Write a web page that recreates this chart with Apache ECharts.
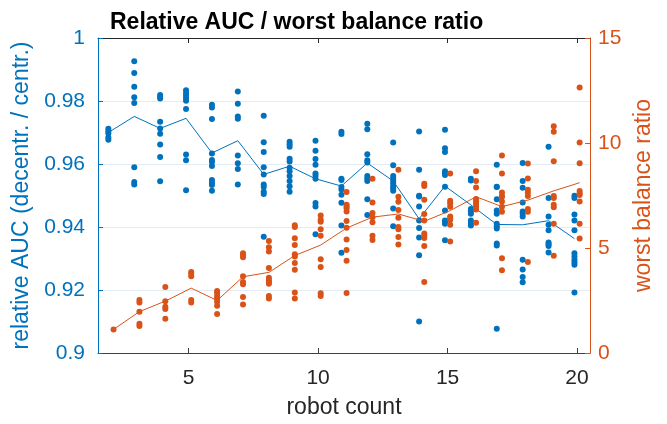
<!DOCTYPE html>
<html>
<head>
<meta charset="utf-8">
<script src="https://cdn.jsdelivr.net/npm/echarts@6/dist/echarts.min.js"></script>
<style>html,body{margin:0;padding:0;background:#fff}#c{width:667px;height:424px}</style>
</head>
<body>
<div id="c"></div>
<script>
// ---- data ----
const robotCounts = [2,3,4,5,6,7,8,9,10,11,12,13,14,15,16,17,18,19,20];

const relAUC = [
  [0.9712,0.9704,0.9697,0.9684,0.9677],
  [0.9926,0.9889,0.9845,0.9812,0.9794,0.959,0.9543,0.9535],
  [0.9819,0.9813,0.9808,0.9734,0.9713,0.9696,0.9662,0.9622,0.9545],
  [0.9834,0.9825,0.9817,0.9809,0.9801,0.9775,0.963,0.9612,0.9517],
  [0.9788,0.9779,0.9743,0.9633,0.9613,0.9606,0.9594,0.9549,0.9541,0.9533,0.9515],
  [0.983,0.9791,0.9751,0.9744,0.9627,0.9602,0.9584,0.9535],
  [0.9753,0.9669,0.9638,0.959,0.9567,0.9535,0.9527,0.9512,0.9505,0.9369],
  [0.9671,0.9663,0.9655,0.9617,0.9608,0.9588,0.9577,0.9562,0.9546,0.9529,0.9512],
  [0.9674,0.9642,0.9616,0.9598,0.957,0.9563,0.9553,0.9476,0.9465,0.9377],
  [0.9702,0.9695,0.9553,0.9549,0.9527,0.9519,0.9502,0.9477,0.9405,0.9318],
  [0.9728,0.971,0.9631,0.9612,0.9605,0.9562,0.9554,0.9546,0.9488,0.9438],
  [0.9668,0.9596,0.9562,0.9554,0.9546,0.9538,0.9529,0.9522,0.9515,0.9459,0.9402],
  [0.9703,0.9582,0.9499,0.9497,0.9465,0.9421,0.9397,0.9367,0.931,0.91],
  [0.9709,0.965,0.9638,0.9577,0.9571,0.9565,0.9528,0.9452,0.9421,0.9416,0.941,0.9358],
  [0.9553,0.9548,0.9457,0.945,0.9442,0.9421,0.9413,0.9405],
  [0.9598,0.9528,0.9527,0.9488,0.9452,0.9442,0.941,0.9402,0.9395,0.9348,0.9341,0.9077],
  [0.9603,0.9546,0.9525,0.9478,0.9449,0.9442,0.9433,0.9296,0.9265,0.9241,0.9225],
  [0.9655,0.9492,0.9433,0.9407,0.939,0.9351,0.9345,0.934,0.9319],
  [0.9499,0.9492,0.944,0.9421,0.939,0.9317,0.9306,0.9296,0.9288,0.928,0.9192]
];
const relAUCMean = [0.970,0.9751,0.9713,0.9745,0.9635,0.9674,0.9567,0.9593,0.9553,0.953,0.9603,0.9546,0.9426,0.953,0.947,0.9408,0.9407,0.942,0.9363];

const balance = [
  [1.125],
  [2.52,2.41,1.97,1.39,1.28],
  [3.14,2.47,2.2,2.09,1.63],
  [3.86,3.77,3.66,2.52,2.41],
  [2.95,2.87,2.72,2.59,2.44,2.25,1.86],
  [4.75,4.66,4.56,3.66,3.38,3.27,2.67,2.31],
  [5.33,5.03,4.83,4.05,3.58,3.47,3.38,3.3,2.72,2.59],
  [6.08,6.0,5.47,5.14,4.7,4.59,4.28,3.97,2.88,2.59],
  [6.55,6.34,6.25,5.89,5.58,4.47,4.09,2.84,2.72],
  [7.67,7.06,6.97,6.89,6.74,6.28,5.97,5.41,4.91,4.39,2.86],
  [8.30,7.17,6.67,6.47,6.23,5.58,5.38],
  [8.73,7.44,7.2,6.81,6.44,6.0,5.89,5.52,5.17],
  [8.06,7.95,7.3,6.62,6.31,5.69,5.58,5.48,5.09,3.38],
  [8.55,7.25,7.13,6.97,6.5,6.42,6.34,6.11,5.31],
  [8.66,8.19,7.88,7.33,7.22,7.09,6.97,6.83,6.2],
  [9.41,8.55,7.64,7.48,7.44,7.22,6.97,6.73,4.51,3.94],
  [9.02,8.31,7.77,7.64,7.48,6.86,6.73,4.33],
  [10.8,10.53,9.13,7.48,7.38,7.06,6.94,6.16,4.63],
  [12.64,10.02,9.03,7.72,7.61,7.52,7.22,6.16,5.45]
];
const balanceMean = [1.125,1.97,2.47,3.09,2.5,3.63,3.84,4.64,5.14,5.95,6.47,6.62,6.27,6.78,7.44,6.97,7.28,7.72,8.11];

const xTicks = [5,10,15,20];
const leftTicks = [0.9,0.92,0.94,0.96,0.98,1];
const rightTicks = [0,5,10,15];

// ---- chart ----
const BLUE = '#0072BD', ORANGE = '#D95319', DARK = '#262626';
const FONT = 'Liberation Sans';
const off = 0.1;

const blueScatter = [], orangeScatter = [], blueLine = [], orangeLine = [];
robotCounts.forEach((n, i) => {
  relAUC[i].forEach(v => blueScatter.push([n - off, v]));
  balance[i].forEach(v => orangeScatter.push([n + off, v]));
  blueLine.push([n - off, relAUCMean[i]]);
  orangeLine.push([n + off, balanceMean[i]]);
});

const chart = echarts.init(document.getElementById('c'), null, {renderer: 'canvas'});
chart.setOption({
  animation: false,
  backgroundColor: '#fff',
  title: {
    text: 'Relative AUC / worst balance ratio',
    left: 105, top: 6,
    textStyle: {fontFamily: FONT, fontWeight: 'bold', fontSize: 23, color: '#000'}
  },
  grid: {left: 98, right: 77, top: 38, bottom: 66, containLabel: false},
  xAxis: [{
    type: 'value', min: 1.5, max: 20.5, position: 'bottom',
    name: 'robot count', nameLocation: 'middle', nameGap: 43,
    nameTextStyle: {fontFamily: FONT, fontSize: 23, color: DARK},
    axisLine: {show: true, lineStyle: {color: '#404040', width: 1}},
    axisTick: {show: true, inside: true, length: 5, customValues: xTicks, lineStyle: {color: '#404040'}},
    axisLabel: {customValues: xTicks, fontFamily: FONT, fontSize: 21, color: DARK, margin: 15},
    splitLine: {show: false}
  }, {
    type: 'value', min: 1.5, max: 20.5, position: 'top',
    axisLine: {show: true, lineStyle: {color: DARK, width: 1}},
    axisTick: {show: true, inside: true, length: 5, customValues: xTicks, lineStyle: {color: DARK}},
    axisLabel: {show: false},
    splitLine: {show: false}
  }],
  yAxis: [{
    type: 'value', min: 0.9, max: 1, interval: 0.02, position: 'left',
    name: 'relative AUC (decentr. / centr.)', nameLocation: 'middle', nameGap: 62, nameRotate: 90,
    nameTextStyle: {fontFamily: FONT, fontSize: 23, color: BLUE},
    axisLine: {show: true, lineStyle: {color: BLUE, width: 1}},
    axisTick: {show: true, inside: true, length: 5, lineStyle: {color: BLUE}},
    axisLabel: {fontFamily: FONT, fontSize: 21, color: BLUE, margin: 13,
      formatter: v => String(parseFloat(v.toFixed(2)))},
    splitLine: {show: true, lineStyle: {color: '#e3ecf5', width: 1}}
  }, {
    type: 'value', min: 0, max: 15, interval: 5, position: 'right',
    name: 'worst balance ratio', nameLocation: 'middle', nameGap: 42, nameRotate: 90,
    nameTextStyle: {fontFamily: FONT, fontSize: 23, color: ORANGE},
    axisLine: {show: true, lineStyle: {color: ORANGE, width: 1}},
    axisTick: {show: true, inside: true, length: 5, lineStyle: {color: ORANGE}},
    axisLabel: {fontFamily: FONT, fontSize: 21, color: ORANGE, margin: 8},
    splitLine: {show: false}
  }],
  series: [{
    type: 'scatter', xAxisIndex: 0, yAxisIndex: 0, data: blueScatter,
    symbol: 'circle', symbolSize: 6, itemStyle: {color: BLUE, opacity: 1}, z: 2
  }, {
    type: 'line', xAxisIndex: 0, yAxisIndex: 0, data: blueLine,
    showSymbol: false, lineStyle: {color: BLUE, width: 1}, z: 3
  }, {
    type: 'scatter', xAxisIndex: 0, yAxisIndex: 1, data: orangeScatter,
    symbol: 'circle', symbolSize: 6, itemStyle: {color: ORANGE, opacity: 1}, z: 4
  }, {
    type: 'line', xAxisIndex: 0, yAxisIndex: 1, data: orangeLine,
    showSymbol: false, lineStyle: {color: ORANGE, width: 1}, z: 5
  }]
});
</script>
</body>
</html>
